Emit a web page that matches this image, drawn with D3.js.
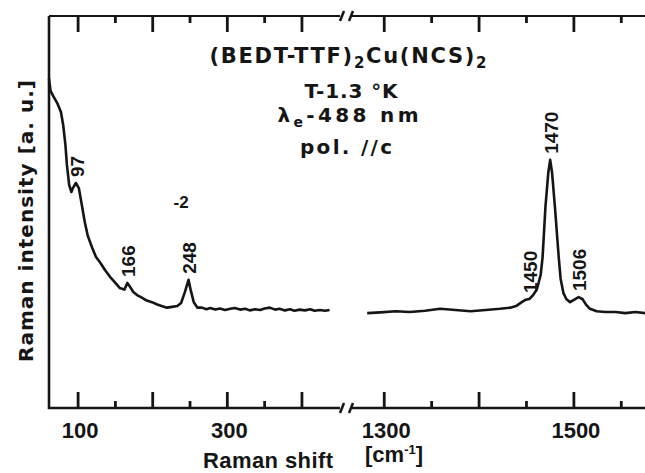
<!DOCTYPE html>
<html lang="en">
<head>
<meta charset="UTF-8">
<title>Raman spectrum</title>
<script src="https://d3js.org/d3.v7.min.js"></script>
<style>
  body { margin: 0; background: #fff; }
</style>
</head>
<body>
<svg id="chart" width="645" height="473"></svg>
<script>
// low frequency part (lattice / molecular modes)
const lowShift = [61, 63, 66, 72, 77, 80, 83, 85, 88, 91, 93, 97, 101, 105, 109, 113, 119, 124, 130, 136,
  143, 150, 156, 162, 166, 170, 174, 179, 186, 192, 199, 206, 212, 219, 226, 233, 238, 243, 248, 251,
  255, 260, 266, 272, 277, 284, 290, 297, 304, 310, 317, 324, 330, 337, 344, 350, 357, 364, 370, 377,
  384, 390, 397, 404, 411, 417, 424, 431, 437];
const lowInt = [84.0, 81.0, 79.8, 77.8, 75.5, 72.2, 67.1, 62.0, 56.9, 55.1, 56.1, 57.4, 56.1, 51.8, 47.4, 43.9, 40.8, 38.5, 37.0, 35.2,
  33.4, 31.9, 30.6, 30.2, 31.9, 30.8, 29.6, 28.8, 28.1, 27.4, 27.0, 26.4, 26.0, 25.6, 25.8, 26.0, 26.8, 29.5, 32.7, 30.0,
  27.0, 25.6, 25.6, 25.2, 25.5, 25.1, 25.4, 25.0, 25.3, 25.5, 25.1, 25.3, 24.9, 25.2, 25.0, 25.4, 25.6, 25.1, 25.3, 24.9,
  25.2, 24.8, 25.1, 24.9, 25.2, 24.8, 25.0, 24.8, 25.0];

// C=C stretching region
const highShift = [1282, 1296, 1312, 1327, 1343, 1359, 1375, 1391, 1407, 1422, 1433, 1439, 1445, 1449, 1453, 1457, 1461, 1465, 1467, 1470,
  1473, 1475, 1477, 1480, 1484, 1486, 1489, 1492, 1496, 1500, 1505, 1509, 1513, 1517, 1524, 1533, 1544, 1554, 1565, 1575];
const highInt = [24.2, 24.4, 24.7, 24.5, 24.8, 25.3, 25.0, 24.7, 25.0, 25.3, 25.6, 26.0, 27.0, 27.6, 27.8, 28.8, 30.3, 34.0, 38.5, 51.3,
  60.0, 63.3, 60.0, 51.3, 38.5, 33.0, 29.3, 27.8, 27.0, 27.6, 28.3, 27.8, 26.3, 25.3, 24.7, 24.5, 24.5, 24.2, 24.5, 24.2];

const lowPeaks = ["97", "166", "248"];
const highPeaks = ["1450", "1470", "1506"];
const lowMajor = [100, 200, 300, 400];
const lowMinor = [150, 250, 350];
const highMajor = [1300, 1400, 1500];
const highMinor = [1350, 1450, 1550];
const tickLabels = ["100", "300", "1300", "1500"];

const svg = d3.select("#chart");
const plotTop = 16, plotBottom = 408;
const ink = "#151515";
const narrowFont = "'Liberation Sans', Arial, sans-serif";
const wideFont = "'DejaVu Sans', Verdana, sans-serif";

const xLow = d3.scaleLinear().domain([61, 451]).range([49, 340]);
const xHigh = d3.scaleLinear().domain([1266, 1575]).range([352, 645]);
const y = d3.scaleLinear().domain([0, 100]).range([plotBottom, plotTop]);

function txt(sel, font) {
  return sel.style("font-family", font).style("font-weight", "bold").style("fill", ink);
}

// frame lines
svg.append("path")
  .attr("d", `M${xLow.range()[0]},${plotTop}V${plotBottom}H${xLow.range()[1]}M${xHigh.range()[0]},${plotBottom}H${xHigh.range()[1]}`)
  .style("fill", "none").style("stroke", ink).style("stroke-width", "2.6px");
svg.append("path")
  .attr("d", `M${xLow.range()[0]},${plotTop}H${xLow.range()[1]}M${xHigh.range()[0]},${plotTop}H${xHigh.range()[1]}`)
  .style("fill", "none").style("stroke", ink).style("stroke-width", "2.2px");

// inward ticks on top and bottom frame lines
function tickMarks(x, vals, len) {
  vals.forEach(v => {
    svg.append("path").attr("d", `M${x(v)},${plotBottom}V${plotBottom - len}`)
      .style("fill", "none").style("stroke", ink).style("stroke-width", "2.8px");
    svg.append("path").attr("d", `M${x(v)},${plotTop}V${plotTop + len}`)
      .style("fill", "none").style("stroke", ink).style("stroke-width", "2.8px");
  });
}
tickMarks(xLow, lowMajor, 16);
tickMarks(xLow, lowMinor, 7);
tickMarks(xHigh, highMajor, 16);
tickMarks(xHigh, highMinor, 7);

// tick labels
[[xLow, lowMajor], [xHigh, highMajor]].forEach(([x, vals]) => {
  vals.filter(v => tickLabels.includes(String(v))).forEach(v => {
    txt(svg.append("text"), narrowFont)
      .attr("x", x(v) + 2).attr("y", 438).attr("text-anchor", "middle")
      .style("font-size", "22px").text(v);
  });
});

// axis break marks
[plotTop, plotBottom].forEach(yy => {
  [xLow.range()[1] + 2, xHigh.range()[0] - 1].forEach(bx => {
    svg.append("path")
      .attr("d", `M${bx - 2},${yy + 5}L${bx + 2},${yy - 5}`)
      .style("stroke", ink).style("stroke-width", "2.5px");
  });
});

const line = x => d3.line().x(d => x(d[0])).y(d => y(d[1]));
svg.append("path").datum(d3.zip(lowShift, lowInt))
  .attr("d", line(xLow)).style("fill", "none").style("stroke", ink)
  .style("stroke-width", "2.6px").style("stroke-linejoin", "round");
svg.append("path").datum(d3.zip(highShift, highInt))
  .attr("d", line(xHigh)).style("fill", "none").style("stroke", ink)
  .style("stroke-width", "2.6px").style("stroke-linejoin", "round");

// peak labels sit just above the local maximum near the quoted value
function peakLabel(x, shifts, ints, label) {
  const v = +label;
  let best = -1;
  shifts.forEach((s, i) => {
    if (Math.abs(s - v) <= 6 && (best < 0 || ints[i] > ints[best])) best = i;
  });
  txt(svg.append("text"), narrowFont)
    .attr("transform", `translate(${x(shifts[best]) + 1},${y(ints[best]) - 6}) rotate(-90)`)
    .attr("dy", "0.36em").style("font-size", "19px")
    .text(label);
}
lowPeaks.forEach(p => peakLabel(xLow, lowShift, lowInt, p));
highPeaks.forEach(p => peakLabel(xHigh, highShift, highInt, p));

txt(svg.append("text"), narrowFont).attr("x", xLow(238)).attr("y", y(52.5)).attr("dy", "0.36em")
  .attr("text-anchor", "middle").style("font-size", "17px").text("-2");

// sample / conditions block
const cx = 348;
const t1 = txt(svg.append("text"), wideFont).attr("x", cx).attr("y", 63).attr("text-anchor", "middle")
  .style("font-size", "21px").attr("textLength", 277).attr("lengthAdjust", "spacing");
t1.append("tspan").text("(BEDT-TTF)");
t1.append("tspan").attr("dy", 5).style("font-size", "15px").text("2");
t1.append("tspan").attr("dy", -5).text("Cu(NCS)");
t1.append("tspan").attr("dy", 5).style("font-size", "15px").text("2");

txt(svg.append("text"), wideFont).attr("x", cx + 3).attr("y", 98).attr("text-anchor", "middle")
  .style("font-size", "20px").attr("textLength", 93).attr("lengthAdjust", "spacing")
  .text("T-1.3 °K");

const t3 = txt(svg.append("text"), wideFont).attr("x", cx).attr("y", 122).attr("text-anchor", "middle")
  .style("font-size", "20px").attr("textLength", 141).attr("lengthAdjust", "spacing");
t3.append("tspan").text("λ");
t3.append("tspan").attr("dy", 5).style("font-size", "14px").text("e");
t3.append("tspan").attr("dy", -5).text("-488 nm");

txt(svg.append("text"), wideFont).attr("x", cx - 2).attr("y", 154).attr("text-anchor", "middle")
  .style("font-size", "20px").attr("textLength", 92).attr("lengthAdjust", "spacing")
  .text("pol. //c");

// axis titles
txt(svg.append("text"), wideFont).attr("transform", "translate(26,221) rotate(-90)")
  .attr("text-anchor", "middle").attr("dy", "0.36em")
  .style("font-size", "20px").attr("textLength", 282).attr("lengthAdjust", "spacing")
  .text("Raman intensity [a. u.]");

txt(svg.append("text"), narrowFont).attr("x", 203).attr("y", 468)
  .style("font-size", "22px").attr("textLength", 130).attr("lengthAdjust", "spacing")
  .text("Raman shift");
const xt = txt(svg.append("text"), narrowFont).attr("x", 365).attr("y", 462).style("font-size", "22px");
xt.append("tspan").text("[cm");
xt.append("tspan").attr("dy", -8).style("font-size", "13px").text("-1");
xt.append("tspan").attr("dy", 8).text("]");
</script>
</body>
</html>
